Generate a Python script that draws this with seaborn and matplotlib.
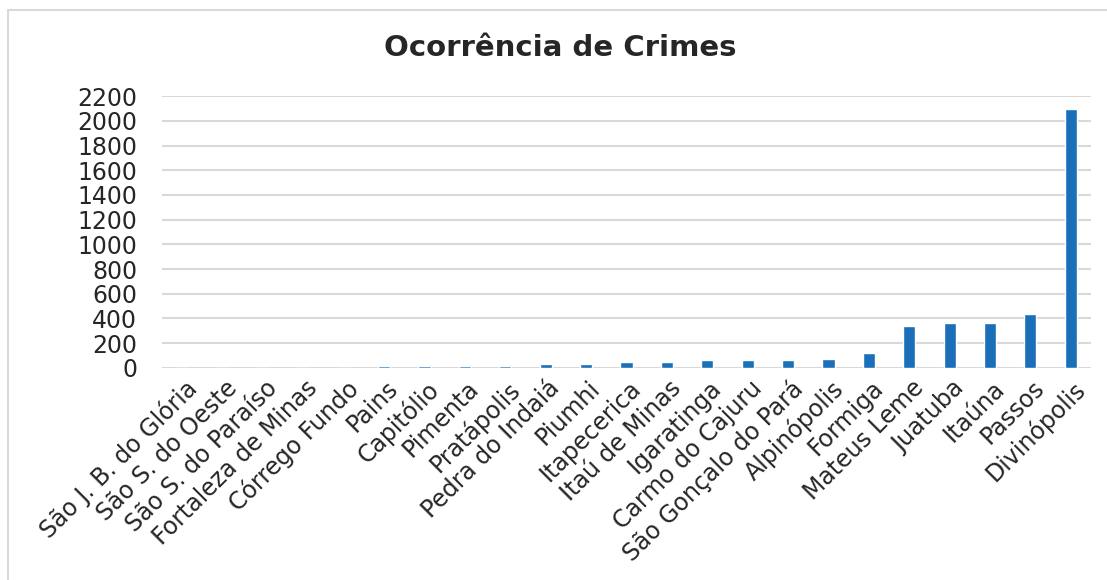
import matplotlib
matplotlib.use("Agg")
import matplotlib.pyplot as plt
import matplotlib.transforms as mtransforms
from matplotlib.lines import Line2D
import seaborn as sns
import pandas as pd

cidades = ["São J. B. do Glória", "São S. do Oeste", "São S. do Paraíso", "Fortaleza de Minas",
           "Córrego Fundo", "Pains", "Capitólio", "Pimenta", "Pratápolis", "Pedra do Indaiá",
           "Piumhi", "Itapecerica", "Itaú de Minas", "Igaratinga", "Carmo do Cajuru",
           "São Gonçalo do Pará", "Alpinópolis", "Formiga", "Mateus Leme", "Juatuba",
           "Itaúna", "Passos", "Divinópolis"]
crimes = [0, 0, 0, 0, 0, 10, 10, 15, 15, 28, 32, 50, 50, 60, 60, 65, 70, 120, 338, 360, 360, 435, 2100]
yticks = [0, 200, 400, 600, 800, 1000, 1200, 1400, 1600, 1800, 2000, 2200]
titulo = "Ocorrência de Crimes"

df = pd.DataFrame({"cidade": cidades, "crimes": crimes})

sns.set_theme(style="white")
plt.rcParams['font.family'] = ['DejaVu Sans']

W, H = 1107, 580
fig = plt.figure(figsize=(W / 100, H / 100), dpi=100)
ax = fig.add_axes([162 / W, 1 - 367.7 / H, (1091 - 162) / W, (367.7 - 96.3) / H])
sns.barplot(data=df, x="cidade", y="crimes", color="#1a6fb8", width=0.3,
            saturation=1, ax=ax, zorder=3)
ax.set_ylim(0, 2200)
ax.set_xlim(-0.5, len(cidades) - 0.5)
ax.set_yticks(yticks)
ax.set_yticklabels([str(v) for v in yticks], fontsize=17, color="#262626")
ax.yaxis.grid(True, color="#d9d9d9", linewidth=1.5, zorder=0)
ax.set_axisbelow(True)
for s in ax.spines.values():
    s.set_visible(False)
ax.tick_params(axis="y", length=0, pad=18)
ax.tick_params(axis="x", length=0, pad=6)
ax.set_xlabel("")
ax.set_ylabel("")
offset = mtransforms.ScaledTranslation(0.02, 0.0, fig.dpi_scale_trans)
ax.set_xticks(range(len(cidades)))
ax.set_xticklabels(cidades, rotation=45, ha="right", rotation_mode="anchor",
                   fontsize=17, color="#262626")
for lab in ax.get_xticklabels():
    lab.set_transform(lab.get_transform() + offset)

fig.text(560 / W, 1 - 48 / H, titulo, ha="center", va="center", fontsize=21,
         fontweight="bold", color="#262626")
fig.add_artist(Line2D([8 / W, 1.0], [1 - 10 / H, 1 - 10 / H], transform=fig.transFigure,
                      color="#d9d9d9", linewidth=1.5))
fig.add_artist(Line2D([8 / W, 8 / W], [1 - 10 / H, 0.0], transform=fig.transFigure,
                      color="#d9d9d9", linewidth=1.5))
fig.savefig("out.png", dpi=100)
